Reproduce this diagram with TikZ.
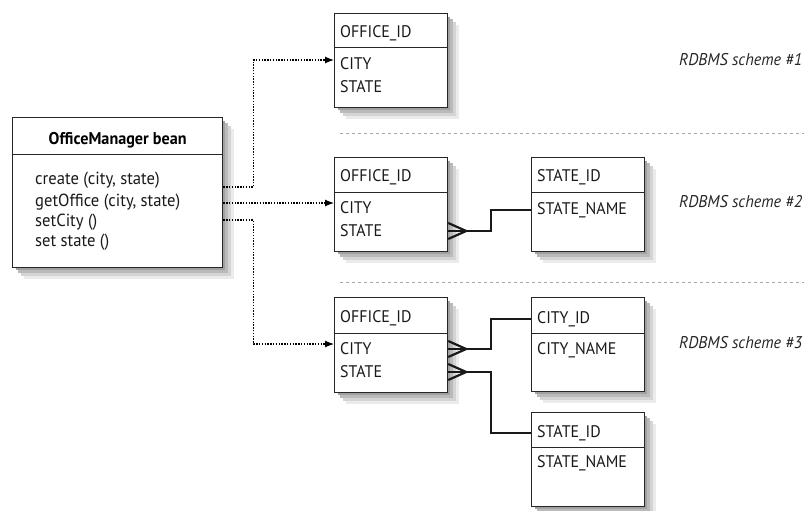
\documentclass[tikz,border=0pt]{standalone}
\usepackage{fontspec}
\setmainfont{PT Sans}
\newfontfamily\cf[FakeStretch=0.95]{PT Sans}
\usetikzlibrary{arrows.meta,calc}
\tikzset{
  tbl/.style={draw=black!85,line width=1.2pt,fill=white,rectangle,inner sep=0pt,
    anchor=north west,minimum width=113pt},
  mgr/.style={draw=black!85,line width=1.3pt,fill=white,rectangle,inner sep=0pt,
    anchor=north west,minimum width=210pt,minimum height=150pt},
  cell/.style={anchor=west,inner sep=0pt,font=\cf\fontsize{16.8}{18}\selectfont,text=black!90},
  meth/.style={anchor=west,inner sep=0pt,font=\cf\fontsize{17.5}{19}\selectfont,text=black!90},
  ttl/.style={inner sep=0pt,font=\cf\bfseries\fontsize{17}{19}\selectfont,text=black},
  scheme/.style={anchor=west,inner sep=0pt,font=\cf\itshape\fontsize{17}{19}\selectfont,text=black!85},
  sepline/.style={draw=black!85,line width=1pt},
  dotted link/.style={line width=1.2pt,dash pattern=on 1.4pt off 1.4pt,
    -{Latex[length=9pt,width=7pt]}},
  rel/.style={line width=2.2pt,black!90},
  divider/.style={draw=black!35,line width=1pt,dash pattern=on 3pt off 3pt},
  shstroke/.style={line width=3.2pt,line cap=butt,line join=miter}
}
\newcommand{\softshadow}[4]{% x y w h
  \draw[shstroke,draw=black!8]  (#1+#3+10.5,#2+12) -- (#1+#3+10.5,#2+#4+10.5) -- (#1+12,#2+#4+10.5);
  \draw[shstroke,draw=black!17] (#1+#3+7.5,#2+9) -- (#1+#3+7.5,#2+#4+7.5) -- (#1+9,#2+#4+7.5);
  \draw[shstroke,draw=black!27] (#1+#3+4.5,#2+6) -- (#1+#3+4.5,#2+#4+4.5) -- (#1+6,#2+#4+4.5);
  \draw[shstroke,draw=black!37] (#1+#3+1.5,#2+4) -- (#1+#3+1.5,#2+#4+1.5) -- (#1+4,#2+#4+1.5);
}
\begin{document}
\begin{tikzpicture}[x=1pt,y=-1pt]
\useasboundingbox (0,0) rectangle (804,511);

% dividers
\coordinate (d1a) at (340,133); \coordinate (d1b) at (804,133);
\coordinate (d2a) at (340,282); \coordinate (d2b) at (804,282);
\draw[divider] (d1a) -- (d1b);
\draw[divider] (d2a) -- (d2b);

% soft shadows behind the boxes
\softshadow{12}{117}{210}{150}
\softshadow{334}{13}{113}{94}
\softshadow{334}{157}{113}{94}
\softshadow{531}{157}{113}{94}
\softshadow{334}{297}{113}{95}
\softshadow{531}{297}{113}{94}
\softshadow{531}{412}{113}{94}

% manager bean
\node[mgr] (m) at (12,117) {};
\draw[sepline] ($(m.north west)+(0,37)$) -- ($(m.north east)+(0,37)$);
\node[ttl] (mt) at ($(m.north)+(0,23)$) {OfficeManager bean};
\node[meth] (m1t) at ($(m.north west)+(23,63)$) {create (city, state)};
\node[meth] (m2t) at ($(m.north west)+(23,85)$) {getOffice (city, state)};
\node[meth] (m3t) at ($(m.north west)+(23,105)$) {setCity ()};
\node[meth] (m4t) at ($(m.north west)+(23,125)$) {set state ()};
\coordinate (m1) at ($(m.north east)+(0,70)$);
\coordinate (m2) at ($(m.north east)+(0,86)$);
\coordinate (m3) at ($(m.north east)+(0,103)$);

% scheme 1
\node[tbl,minimum height=94pt] (o1) at (334,13) {};
\draw[sepline] ($(o1.north west)+(0,35)$) -- ($(o1.north east)+(0,35)$);
\node[cell] (o1h) at ($(o1.north west)+(6,20)$) {OFFICE\_ID};
\node[cell] (o1c) at ($(o1.north west)+(6,51)$) {CITY};
\node[cell] (o1s) at ($(o1.north west)+(6,74)$) {STATE};
\coordinate (a1) at ($(o1.north west)+(0,47)$);

% scheme 2
\node[tbl,minimum height=94pt] (o2) at (334,157) {};
\draw[sepline] ($(o2.north west)+(0,35)$) -- ($(o2.north east)+(0,35)$);
\node[cell] (o2h) at ($(o2.north west)+(6,20)$) {OFFICE\_ID};
\node[cell] (o2c) at ($(o2.north west)+(6,51)$) {CITY};
\node[cell] (o2s) at ($(o2.north west)+(6,74)$) {STATE};
\coordinate (a2) at ($(o2.north west)+(0,46)$);

\node[tbl,minimum height=94pt] (s2) at (531,157) {};
\draw[sepline] ($(s2.north west)+(0,35)$) -- ($(s2.north east)+(0,35)$);
\node[cell] (s2h) at ($(s2.north west)+(6,20)$) {STATE\_ID};
\node[cell] (s2n) at ($(s2.north west)+(6,53)$) {STATE\_NAME};

% scheme 3
\node[tbl,minimum height=95pt] (o3) at (334,297) {};
\draw[sepline] ($(o3.north west)+(0,36)$) -- ($(o3.north east)+(0,36)$);
\node[cell] (o3h) at ($(o3.north west)+(6,21)$) {OFFICE\_ID};
\node[cell] (o3c) at ($(o3.north west)+(6,52)$) {CITY};
\node[cell] (o3s) at ($(o3.north west)+(6,75)$) {STATE};
\coordinate (a3) at ($(o3.north west)+(0,47)$);

\node[tbl,minimum height=94pt] (c3) at (531,297) {};
\draw[sepline] ($(c3.north west)+(0,36)$) -- ($(c3.north east)+(0,36)$);
\node[cell] (c3h) at ($(c3.north west)+(6,22)$) {CITY\_ID};
\node[cell] (c3n) at ($(c3.north west)+(6,53)$) {CITY\_NAME};

\node[tbl,minimum height=94pt] (s3) at (531,412) {};
\draw[sepline] ($(s3.north west)+(0,35)$) -- ($(s3.north east)+(0,35)$);
\node[cell] (s3h) at ($(s3.north west)+(6,21)$) {STATE\_ID};
\node[cell] (s3n) at ($(s3.north west)+(6,51)$) {STATE\_NAME};

% scheme labels
\node[scheme] (l1) at (679,60) {RDBMS scheme \#1};
\node[scheme] (l2) at (679,202) {RDBMS scheme \#2};
\node[scheme] (l3) at (679,343) {RDBMS scheme \#3};

% dotted links
\draw[dotted link] (m1) -- ++(30,0) |- (a1);
\draw[dotted link] (m2) -- (a2 |- m2);
\draw[dotted link] (m3) -- ++(30,0) |- (a3);

% crow's foot relations
\foreach \src/\dst/\k in {o2s/s2n/k2, o3c/c3h/k3a, o3s/s3h/k3b}{
  \coordinate (\k e) at (o2.east |- \src);
  \coordinate (\k) at ($(\k e)+(18,0)$);
  \draw[rel] (\k) -- (\k e);
  \draw[rel] (\k) -- ($(\k e)+(0,-8)$);
  \draw[rel] (\k) -- ($(\k e)+(0,8)$);
  \draw[rel] (\k) -- ++(25,0) |- (s2.west |- \dst);
}
\end{tikzpicture}
\end{document}
